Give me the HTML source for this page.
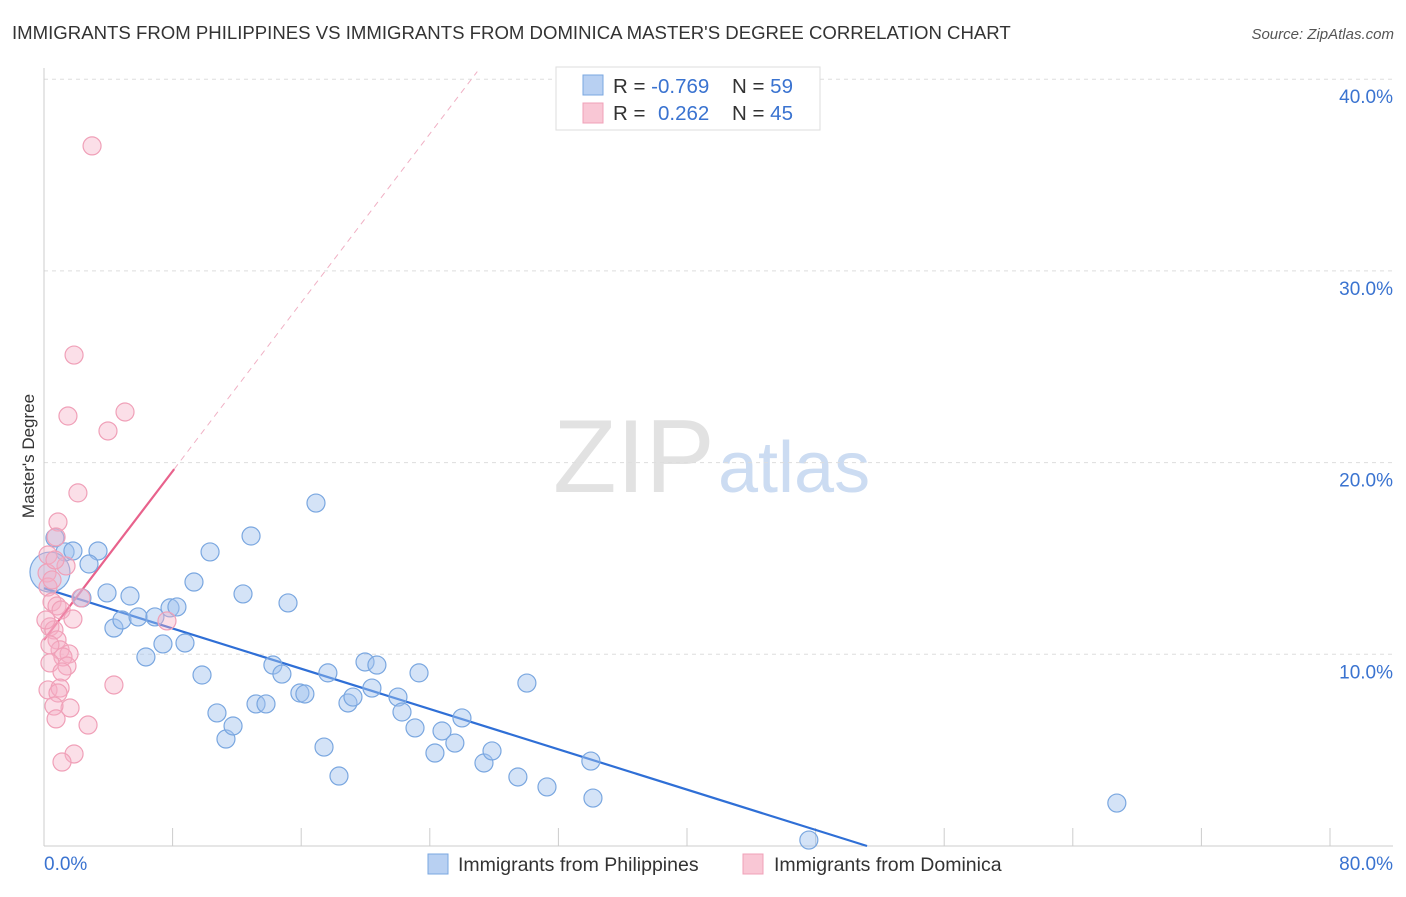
<!DOCTYPE html>
<html><head><meta charset="utf-8"><style>
body{margin:0;background:#fff;font-family:"Liberation Sans",sans-serif;}
svg text{font-family:"Liberation Sans",sans-serif;}
</style></head><body>
<svg id="chart" width="1406" height="892" xmlns="http://www.w3.org/2000/svg">
<text x="12" y="39" font-size="18.6" fill="#333">IMMIGRANTS FROM PHILIPPINES VS IMMIGRANTS FROM DOMINICA MASTER'S DEGREE CORRELATION CHART</text>
<text x="1394" y="39" font-size="15" fill="#555" text-anchor="end" font-style="italic">Source: ZipAtlas.com</text>
<text x="34" y="456" font-size="17" fill="#333" text-anchor="middle" transform="rotate(-90 34 456)">Master's Degree</text>
<g>
<text x="553" y="492" font-size="104" font-family="Liberation Serif" fill="#e2e2e2">ZIP</text>
<text x="718" y="492" font-size="72" fill="#ccdcf2">atlas</text>
</g>
<g id="grid"></g>
<g id="axes"></g>
<g id="trends"></g>
<g id="pts"></g>
<g>
<rect x="556" y="67" width="264" height="63" fill="#fff" stroke="#ddd"/>
<rect x="583" y="75" width="20" height="20" fill="#b8d0f2" stroke="#7aa7e0"/>
<rect x="583" y="103" width="20" height="20" fill="#f9c7d5" stroke="#f0a0b8"/>
<text x="613" y="93" font-size="20.5" fill="#333">R = <tspan fill="#3a73d0">-0.769</tspan></text>
<text x="732" y="93" font-size="20.5" fill="#333">N = <tspan fill="#3a73d0">59</tspan></text>
<text x="613" y="120" font-size="20.5" fill="#333">R = <tspan fill="#3a73d0" x="658">0.262</tspan></text>
<text x="732" y="120" font-size="20.5" fill="#333">N = <tspan fill="#3a73d0">45</tspan></text>
</g>
<g>
<rect x="428" y="854" width="20" height="20" fill="#b8d0f2" stroke="#7aa7e0"/>
<text x="458" y="871" font-size="19.5" fill="#333">Immigrants from Philippines</text>
<rect x="743" y="854" width="20" height="20" fill="#f9c7d5" stroke="#f0a0b8"/>
<text x="774" y="871" font-size="19.5" fill="#333">Immigrants from Dominica</text>
</g>
</svg>
<script>
const blueX=[0.68,1.31,1.80,3.36,2.80,2.36,3.92,4.35,4.85,5.35,5.85,6.90,7.84,8.27,6.34,7.40,8.77,9.33,10.33,9.83,10.76,11.32,11.76,12.38,12.88,13.19,13.81,15.18,14.24,14.80,15.92,16.23,16.92,17.42,17.66,18.35,18.91,19.22,19.97,20.71,20.40,22.02,22.27,23.08,23.33,24.32,24.76,25.56,26.00,27.37,27.87,29.48,30.04,31.29,34.02,34.15,47.58,66.74,0.37];
const blueY=[16.07,15.34,15.39,15.39,14.71,12.94,13.20,11.37,11.79,13.04,11.95,11.95,12.42,12.47,9.86,10.54,10.59,13.77,15.34,8.92,6.94,5.58,6.26,13.15,16.17,7.41,7.41,12.68,9.44,8.97,7.98,7.93,17.89,5.16,9.03,3.65,7.46,7.77,9.60,9.44,8.24,7.77,6.99,6.16,9.03,4.85,6.00,5.37,6.68,4.33,4.96,3.60,8.50,3.08,4.43,2.50,0.31,2.24,14.29];
const pinkX=[2.99,1.87,1.49,5.04,3.98,2.11,0.87,0.75,0.25,1.37,0.19,0.25,2.30,0.50,0.81,1.06,1.80,7.65,0.37,0.62,0.81,1.00,1.56,1.18,0.37,1.43,1.12,0.25,1.00,0.87,4.35,1.62,0.62,0.75,2.74,1.87,1.12,0.37,0.12,0.50,0.68];
const pinkY=[36.52,25.61,22.43,22.64,21.65,18.42,16.90,16.12,15.18,14.61,14.24,13.51,12.94,12.73,12.52,12.31,11.84,11.74,11.43,11.27,10.75,10.23,10.02,9.86,9.55,9.39,9.08,8.14,8.24,7.98,8.40,7.20,7.30,6.63,6.31,4.80,4.38,10.49,11.79,13.88,14.92];
const yTicks=[10,20,30,40];
const yTickLabels=["10.0%","20.0%","30.0%","40.0%"];
const xEnds=["0.0%","80.0%"];
const blueTrend=[13.45,-0.2627]; // intercept, slope
const pinkTrend=[10.75,1.1];

const NS="http://www.w3.org/2000/svg";
const X=v=>44+v/80*1286, Y=v=>846-v/10*191.7;
function mk(tag,attrs,parent){const e=document.createElementNS(NS,tag);for(const k in attrs)e.setAttribute(k,attrs[k]);document.getElementById(parent).appendChild(e);return e;}
yTicks.forEach((t,i)=>{
 const g=mk('line',{x1:44,x2:1393,y1:Y(t),y2:Y(t),stroke:'#ddd','stroke-dasharray':'4,4'},'grid');
 
 
 const l=mk('text',{x:1393,y:Y(t)+24,'font-size':19,fill:'#3a73d0','text-anchor':'end'},'axes');
 l.textContent=yTickLabels[i];
 
 
});
let a=mk('line',{x1:44,x2:44,y1:68,y2:846,stroke:'#ccc'},'axes');


a=mk('line',{x1:44,x2:1393,y1:846,y2:846,stroke:'#ccc'},'axes');


for(let i=1;i<=10;i++){const t=mk('line',{x1:X(i*8),x2:X(i*8),y1:828,y2:846,stroke:'#ccc'},'axes');
 
 }
let xl=mk('text',{x:44,y:870,'font-size':19,fill:'#3a73d0'},'axes');xl.textContent=xEnds[0];


xl=mk('text',{x:1393,y:870,'font-size':19,fill:'#3a73d0','text-anchor':'end'},'axes');xl.textContent=xEnds[1];



blueX.forEach((x,i)=>{const c=mk('circle',{cx:X(x),cy:Y(blueY[i]),r:i==blueX.length-1?20:9,fill:'rgba(160,192,238,0.45)',stroke:'#7aa7e0','stroke-width':1.2},'pts');
 
 });
pinkX.forEach((x,i)=>{const c=mk('circle',{cx:X(x),cy:Y(pinkY[i]),r:9,fill:'rgba(246,175,198,0.4)',stroke:'#f0a0b8','stroke-width':1.2},'pts');
 
 });

const bx2=-blueTrend[0]/blueTrend[1];
let t=mk('line',{x1:X(0),y1:Y(blueTrend[0]),x2:X(bx2),y2:Y(0),stroke:'#2f6fd6','stroke-width':2.2},'trends');


const pxEnd=8.1, pxDash=(40.4-pinkTrend[0])/pinkTrend[1];
t=mk('line',{x1:X(0),y1:Y(pinkTrend[0]),x2:X(pxEnd),y2:Y(pinkTrend[0]+pinkTrend[1]*pxEnd),stroke:'#e8628c','stroke-width':2.2},'trends');


t=mk('line',{x1:X(pxEnd),y1:Y(pinkTrend[0]+pinkTrend[1]*pxEnd),x2:X(pxDash),y2:Y(40.4),stroke:'#f0b0c4','stroke-width':1,'stroke-dasharray':'6,5'},'trends');


</script>
</body></html>
